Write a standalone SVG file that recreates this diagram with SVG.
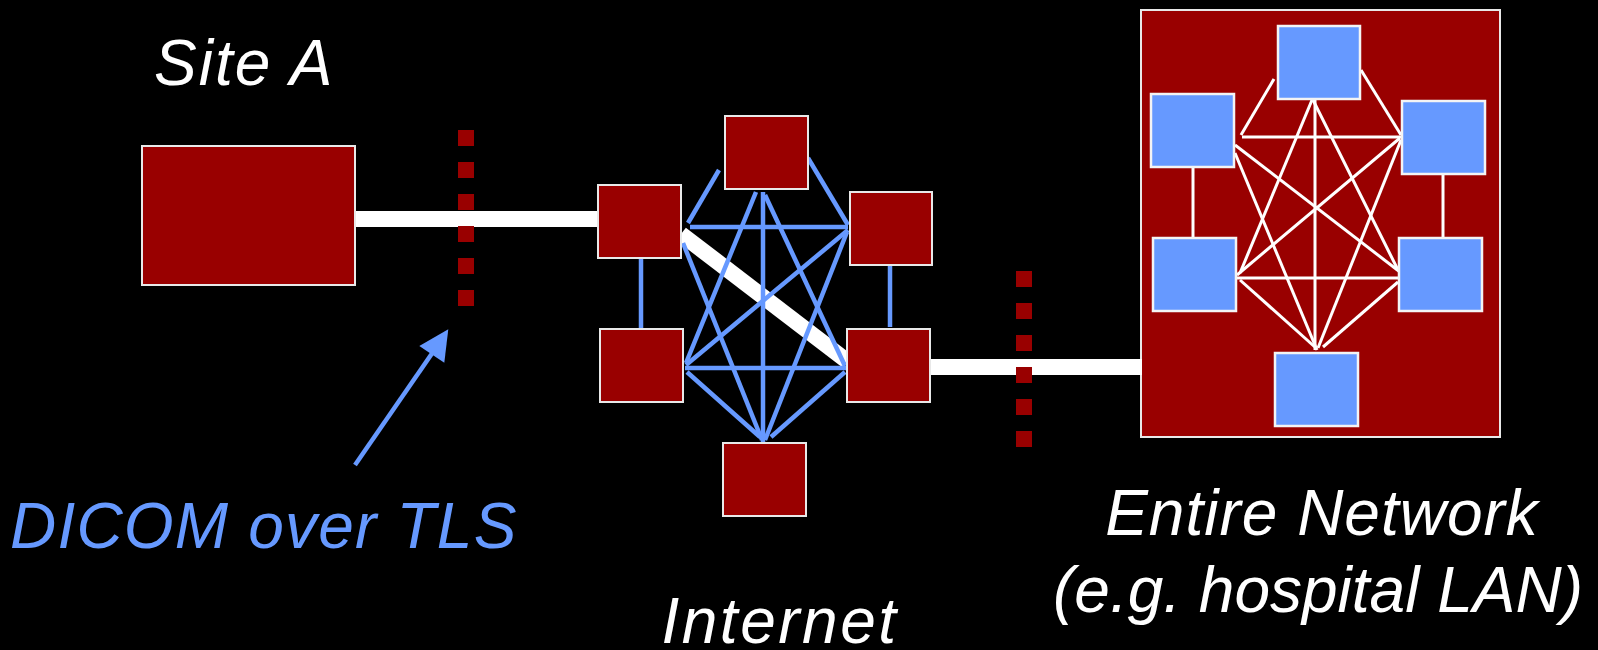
<svg xmlns="http://www.w3.org/2000/svg" width="1598" height="650" viewBox="0 0 1598 650">
<defs>
<style>
.lbl{font-family:"Liberation Sans",Arial,sans-serif;font-style:italic;font-size:64px;fill:#ffffff}
.blue{fill:#6699FF}
.rnode{fill:#990000;stroke:#e8e8e8;stroke-width:2}
.bnode{fill:#6699FF;stroke:#f4f4f4;stroke-width:2.5}
.link{stroke:#ffffff;stroke-width:16;fill:none}
.mesh{stroke:#6699FF;stroke-width:4.5;fill:none}
.lan{stroke:#ffffff;stroke-width:3;fill:none}
.dots{stroke:#990000;stroke-width:16;stroke-dasharray:16 16;fill:none}
</style>
</defs>
<rect x="0" y="0" width="1598" height="650" fill="#000000"/>

<g id="lan-network">
<rect class="rnode" x="1141" y="10" width="359" height="427" stroke-width="1.5"/>
</g>

<g id="connectors">
<line class="link" x1="352" y1="219" x2="600" y2="219"/>
<line class="link" x1="928" y1="367" x2="1142" y2="367"/>
<line class="link" x1="681" y1="234" x2="847" y2="361"/>
<g id="internet-mesh">
<line class="mesh" x1="719" y1="170" x2="688" y2="223"/>
<line class="mesh" x1="690" y1="227" x2="848" y2="227"/>
<line class="mesh" x1="808" y1="158" x2="848" y2="225"/>
<line class="mesh" x1="763" y1="192" x2="763" y2="442"/>
<line class="mesh" x1="756" y1="192" x2="686" y2="363"/>
<line class="mesh" x1="765" y1="195" x2="845" y2="366"/>
<line class="mesh" x1="848" y1="230" x2="686" y2="365"/>
<line class="mesh" x1="847" y1="232" x2="765" y2="440"/>
<line class="mesh" x1="683" y1="243" x2="762" y2="440"/>
<line class="mesh" x1="685" y1="368" x2="846" y2="368"/>
<line class="mesh" x1="687" y1="372" x2="760" y2="437"/>
<line class="mesh" x1="845" y1="372" x2="771" y2="437"/>
<line class="mesh" x1="641" y1="258" x2="641" y2="329"/>
<line class="mesh" x1="890" y1="265" x2="890" y2="327"/>
</g>
<g id="lan-mesh">
<line class="lan" x1="1274" y1="79" x2="1241" y2="135"/>
<line class="lan" x1="1242" y1="137" x2="1401" y2="137"/>
<line class="lan" x1="1361" y1="70" x2="1401" y2="135"/>
<line class="lan" x1="1315" y1="100" x2="1315" y2="350"/>
<line class="lan" x1="1312" y1="100" x2="1240" y2="273"/>
<line class="lan" x1="1313" y1="100" x2="1398" y2="270"/>
<line class="lan" x1="1235" y1="145" x2="1400" y2="272"/>
<line class="lan" x1="1235" y1="153" x2="1317" y2="350"/>
<line class="lan" x1="1400" y1="138" x2="1237" y2="275"/>
<line class="lan" x1="1401" y1="140" x2="1318" y2="348"/>
<line class="lan" x1="1237" y1="278" x2="1399" y2="278"/>
<line class="lan" x1="1240" y1="280" x2="1316" y2="348"/>
<line class="lan" x1="1398" y1="282" x2="1323" y2="347"/>
<line class="lan" x1="1193" y1="167" x2="1193" y2="238"/>
<line class="lan" x1="1443" y1="174" x2="1443" y2="238"/>
</g>
<line class="dots" x1="466" y1="130" x2="466" y2="306"/>
<line class="dots" x1="1024" y1="271" x2="1024" y2="447"/>
<g id="tls-arrow">
<line x1="355" y1="465" x2="433" y2="352" stroke="#6699FF" stroke-width="4.5"/>
<polygon class="blue" points="448.3,329.3 419.3,346 444.3,362.7"/>
</g>
</g>

<g id="site-a">
<rect class="rnode" x="142" y="146" width="213" height="139"/>
</g>

<g id="inet-left"><rect class="rnode" x="598" y="185" width="83" height="73"/></g>
<g id="inet-top"><rect class="rnode" x="725" y="116" width="83" height="73"/></g>
<g id="inet-right-top"><rect class="rnode" x="850" y="192" width="82" height="73"/></g>
<g id="inet-left-bottom"><rect class="rnode" x="600" y="329" width="83" height="73"/></g>
<g id="inet-right-bottom"><rect class="rnode" x="847" y="329" width="83" height="73"/></g>
<g id="inet-bottom"><rect class="rnode" x="723" y="443" width="83" height="73"/></g>

<g id="lan-top"><rect class="bnode" x="1278" y="26" width="82" height="73"/></g>
<g id="lan-left-top"><rect class="bnode" x="1151" y="94" width="83" height="73"/></g>
<g id="lan-right-top"><rect class="bnode" x="1402" y="101" width="83" height="73"/></g>
<g id="lan-left-bottom"><rect class="bnode" x="1153" y="238" width="83" height="73"/></g>
<g id="lan-right-bottom"><rect class="bnode" x="1399" y="238" width="83" height="73"/></g>
<g id="lan-bottom"><rect class="bnode" x="1275" y="353" width="83" height="73"/></g>

<g id="labels">
<text class="lbl" x="154" y="85" letter-spacing="2">Site A</text>
<text class="lbl" x="10" y="548" letter-spacing="1.2" style="fill:#6699FF">DICOM over TLS</text>
<text class="lbl" x="780" y="643" text-anchor="middle" letter-spacing="2.5">Internet</text>
<text class="lbl" x="1322" y="535" text-anchor="middle" letter-spacing="1">Entire Network</text>
<text class="lbl" x="1318" y="612" text-anchor="middle">(e.g. hospital LAN)</text>
</g>
</svg>
